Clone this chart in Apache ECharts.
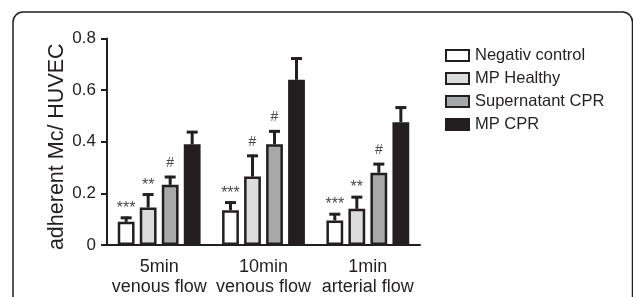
<!DOCTYPE html>
<html>
<head>
<meta charset="utf-8">
<script src="https://cdn.jsdelivr.net/npm/echarts@6/dist/echarts.min.js"></script>
<style>
  html, body { margin: 0; padding: 0; background: #fff; }
  #chart { width: 633px; height: 297px; }
</style>
</head>
<body>
<div id="chart"></div>
<script>
// data
var categories = ['5min\nvenous flow', '10min\nvenous flow', '1min\narterial flow'];
var seriesNames = ['Negativ control', 'MP Healthy', 'Supernatant CPR', 'MP CPR'];
var negativControl = [0.09, 0.135, 0.095];
var mpHealthy = [0.145, 0.265, 0.14];
var supernatantCpr = [0.233, 0.39, 0.28];
var mpCpr = [0.39, 0.64, 0.476];
var errNegativ = [0.02, 0.034, 0.029];
var errHealthy = [0.055, 0.085, 0.05];
var errSupernatant = [0.035, 0.055, 0.038];
var errMpCpr = [0.052, 0.087, 0.061];
var marksNegativ = ['***', '***', '***'];
var marksHealthy = ['**', '#', '**'];
var marksSupernatant = ['#', '#', '#'];
var marksMpCpr = ['', '', ''];
var yTicks = [0, 0.2, 0.4, 0.6, 0.8];

var values = [negativControl, mpHealthy, supernatantCpr, mpCpr];
var errors = [errNegativ, errHealthy, errSupernatant, errMpCpr];
var marks = [marksNegativ, marksHealthy, marksSupernatant, marksMpCpr];
var fills = ['#ffffff', '#dcdcdd', '#a7a8aa', '#231f20'];
var ink = '#231f20';

var barW = 16.8;
var barGap = 0.31;
var pitch = barW * (1 + barGap);

var chart = echarts.init(document.getElementById('chart'));

var series = [];
seriesNames.forEach(function (name, i) {
  series.push({
    name: name,
    type: 'bar',
    data: values[i],
    barWidth: barW,
    barGap: (barGap * 100) + '%',
    itemStyle: { color: fills[i], borderColor: ink, borderWidth: 2.5 },
    emphasis: { disabled: true },
    z: 2
  });
});

// error bars and significance marks, placed over each bar
seriesNames.forEach(function (name, i) {
  var data = values[i].map(function (v, k) {
    return [k, v, errors[i][k]];
  });
  series.push({
    type: 'custom',
    data: data,
    z: 3,
    silent: true,
    renderItem: function (params, api) {
      var k = api.value(0);
      var v = api.value(1);
      var e = api.value(2);
      var m = marks[i][k];
      var base = api.coord([k, v]);
      var top = api.coord([k, v + e]);
      var x = base[0] + (i - 1.5) * pitch;
      var children = [
        { type: 'line', shape: { x1: x, y1: base[1], x2: x, y2: top[1] },
          style: { stroke: ink, lineWidth: 3 } },
        { type: 'line', shape: { x1: x - 5.5, y1: top[1] + 1.2, x2: x + 5.5, y2: top[1] + 1.2 },
          style: { stroke: ink, lineWidth: 3 } }
      ];
      if (m) {
        var star = m.indexOf('*') >= 0;
        children.push({
          type: 'text',
          style: {
            x: x,
            y: top[1] - (star ? 8 : 13),
            text: m,
            fill: '#4a4a4a',
            font: (star ? '16px' : '14px') + ' "Liberation Sans", Arial, sans-serif',
            align: 'center',
            verticalAlign: 'middle'
          }
        });
      }
      return { type: 'group', children: children };
    }
  });
});

chart.setOption({
  animation: false,
  backgroundColor: '#ffffff',
  textStyle: { fontFamily: '"Liberation Sans", Arial, sans-serif', color: ink },
  graphic: [{
    type: 'rect',
    shape: { x: 13, y: 12, width: 619.5, height: 320, r: 10 },
    style: { fill: 'none', stroke: ink, lineWidth: 1.5 },
    silent: true
  }],
  grid: { left: 107, right: 213, top: 38.5, bottom: 50 },
  legend: {
    data: seriesNames,
    orient: 'vertical',
    left: 440,
    top: 42,
    itemWidth: 23,
    itemHeight: 11,
    itemGap: 6,
    icon: 'rect',
    selectedMode: false,
    textStyle: { fontSize: 16.5, color: ink, padding: [0, 0, 0, 1] }
  },
  xAxis: {
    type: 'category',
    data: categories,
    axisLine: { lineStyle: { color: ink, width: 2 } },
    axisTick: { alignWithLabel: true, length: 6, lineStyle: { color: ink, width: 2 } },
    axisLabel: { interval: 0, fontSize: 18, color: ink, lineHeight: 20, margin: 12 }
  },
  yAxis: {
    type: 'value',
    min: yTicks[0],
    max: yTicks[yTicks.length - 1],
    interval: yTicks[1] - yTicks[0],
    name: 'adherent Mc/ HUVEC',
    nameLocation: 'middle',
    nameGap: 39,
    nameTextStyle: { fontSize: 21.5, color: ink, padding: [0, 10, 0, 0] },
    axisLine: { show: true, lineStyle: { color: ink, width: 2 } },
    axisTick: { show: true, length: 6, lineStyle: { color: ink, width: 2 } },
    axisLabel: { fontSize: 17, color: ink, margin: 11 },
    splitLine: { show: false }
  },
  series: series
});
</script>
</body>
</html>
